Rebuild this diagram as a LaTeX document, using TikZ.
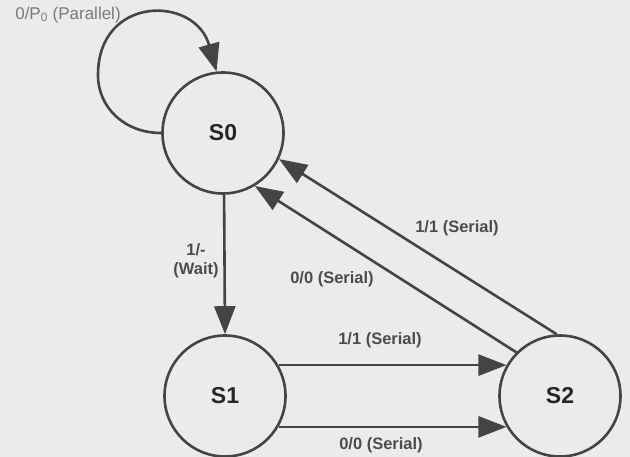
\documentclass[tikz,border=0pt]{standalone}
\usepackage{fontspec}
\setmainfont{Liberation Sans}
\usetikzlibrary{arrows.meta}
\definecolor{bg}{HTML}{EBEBEB}
\definecolor{ln}{HTML}{444444}
\definecolor{lab}{HTML}{4C4C4C}
\definecolor{labtwo}{HTML}{7A7A7A}
\begin{document}
\begin{tikzpicture}[x=1pt,y=-1pt,
  state/.style={circle,draw=ln,line width=2.6pt,minimum size=121pt,inner sep=0pt,
    font=\fontsize{23}{26}\selectfont\bfseries,text=black!85},
  edge/.style={draw=ln,line width=2.6pt,-{Triangle[length=28pt 0 0,width=21pt 0 0]}},
  lbl/.style={font=\fontsize{16.5}{19}\selectfont\bfseries,text=lab,inner sep=0pt,align=center},
  lbltwo/.style={font=\fontsize{17}{20}\selectfont,text=labtwo,inner sep=0pt}
]
\fill[bg] (0,0) rectangle (630,457);
\useasboundingbox (0,0) rectangle (630,457);

\node[state] (S0) at (223,133) {S0};
\node[state] (S1) at (225,396) {S1};
\node[state] (S2) at (560,396) {S2};

\coordinate (lpl) at (98,75);
\draw[edge] (S0.west) .. controls (125,133) and (98,108) .. (lpl)
  .. controls (98,-5) and (195,-5) .. (S0.96);
\draw[edge] (S0.-89) -- (S1.north);
\draw[edge] (S1.30) -- (S2.150);
\draw[edge] (S1.-30) -- (S2.-150);
\draw[edge] (S2.93) -- (S0.-25);
\draw[edge] (S2.135) -- (S0.-59);

\node[lbltwo] (lp) at (68,15) {0/P\textsubscript{0} (Parallel)};
\node[lbl] (lw) at (196,261) {1/-\\(Wait)};
\node[lbl] (la) at (380,340) {1/1 (Serial)};
\node[lbl] (lb) at (381,445) {0/0 (Serial)};
\node[lbl] (lc) at (332,279) {0/0 (Serial)};
\node[lbl] (ld) at (457,228) {1/1 (Serial)};
\end{tikzpicture}
\end{document}
